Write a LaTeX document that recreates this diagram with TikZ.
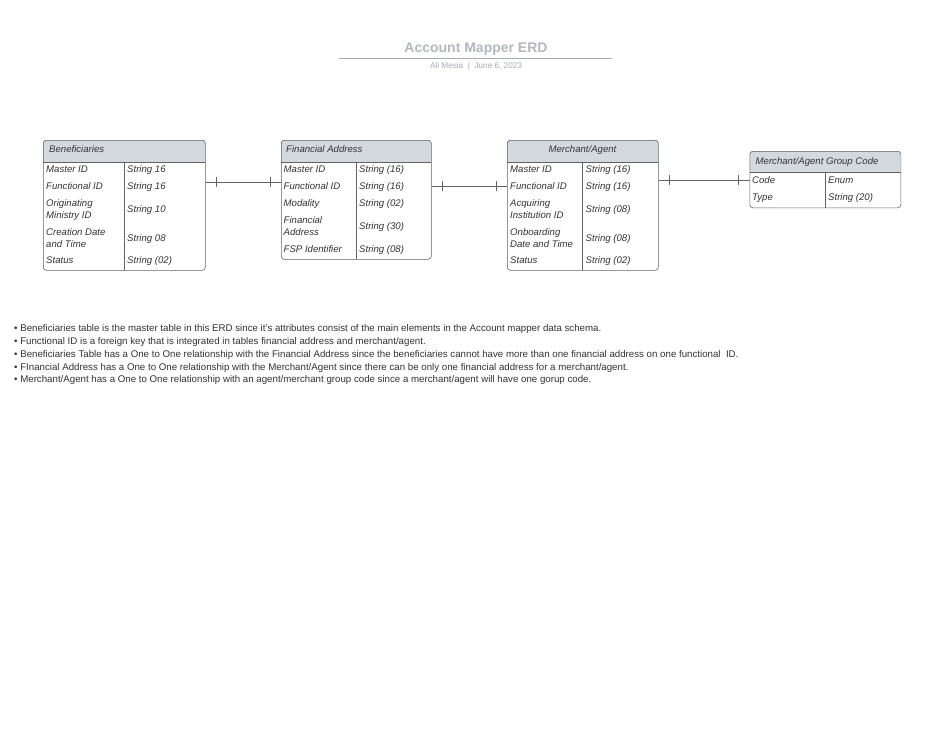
\documentclass[tikz,border=0pt]{standalone}
\usepackage{fontspec}
\setmainfont{Liberation Sans}
\usetikzlibrary{calc}
\definecolor{hdr}{HTML}{D4D9E0}
\definecolor{bord}{HTML}{5F6368}
\definecolor{txt}{HTML}{333333}
\definecolor{ttl}{HTML}{B4B8C0}
\definecolor{sub}{HTML}{A8ACB4}
\begin{document}
\begin{tikzpicture}[x=1pt,y=-1pt,
  cell/.style={font=\fontsize{9.6}{12}\selectfont\itshape, text=txt, anchor=west, inner sep=0, align=left},
  boxs/.style={draw=bord, line width=0.6pt, rounded corners=3pt, anchor=north west, inner sep=0},
  inner/.style={draw=bord, line width=0.6pt},
  conn/.style={draw=bord, line width=0.5pt},
  tick/.style={draw=bord, line width=0.5pt},
  bul/.style={font=\fontsize{9.7}{11}\selectfont, text=txt, anchor=west, inner sep=0}]
\fill[white] (0,0) rectangle (949,733);
\useasboundingbox (0,0) rectangle (949,733);

% title
\node[font=\fontsize{14}{16}\selectfont\bfseries, text=ttl, inner sep=0] (title) at (476,49.5) {Account Mapper ERD};
\draw[sub, line width=0.8pt] (339,58) -- (612,58);
\node[font=\fontsize{8.2}{9}\selectfont, text=sub, inner sep=0] (subtitle) at (476,66.5) {Ali Mesia\ \ |\ \ June 6, 2023};

% ---------- Beneficiaries ----------
\begin{scope}
\clip[rounded corners=3pt] (43,140) rectangle (205,270);
\fill[hdr] (43,140) rectangle (205,162);
\end{scope}
\node[boxs, minimum width=162pt, minimum height=130pt] (ben) at (43,140) {};
\draw[inner] (43,162) -- (205,162);
\draw[inner] (124,162) -- (124,270);
\node[cell] (benh) at (49,150.5) {\strut Beneficiaries};
\node[cell] (b1a) at (46,170) {\strut Master ID};
\node[cell] (b1b) at (127,170) {\strut String 16};
\node[cell] (b2a) at (46,187) {\strut Functional ID};
\node[cell] (b2b) at (127,187) {\strut String 16};
\node[cell] (b3a) at (46,210) {\strut Originating\\\strut Ministry ID};
\node[cell] (b3b) at (127,210) {\strut String 10};
\node[cell] (b4a) at (46,239) {\strut Creation Date\\\strut and Time};
\node[cell] (b4b) at (127,239) {\strut String 08};
\node[cell] (b5a) at (46,261) {\strut Status};
\node[cell] (b5b) at (127,261) {\strut String (02)};

% ---------- Financial Address ----------
\begin{scope}
\clip[rounded corners=3pt] (281,140) rectangle (431,259);
\fill[hdr] (281,140) rectangle (431,162);
\end{scope}
\node[boxs, minimum width=150pt, minimum height=119pt] (fa) at (281,140) {};
\draw[inner] (281,162) -- (431,162);
\draw[inner] (356,162) -- (356,259);
\node[cell] (fah) at (286,150.5) {\strut Financial Address};
\node[cell] (f1a) at (283.5,170) {\strut Master ID};
\node[cell] (f1b) at (359,170) {\strut String (16)};
\node[cell] (f2a) at (283.5,187) {\strut Functional ID};
\node[cell] (f2b) at (359,187) {\strut String (16)};
\node[cell] (f3a) at (283.5,204) {\strut Modality};
\node[cell] (f3b) at (359,204) {\strut String (02)};
\node[cell] (f4a) at (283.5,227) {\strut Financial\\\strut Address};
\node[cell] (f4b) at (359,227) {\strut String (30)};
\node[cell] (f5a) at (283.5,250) {\strut FSP Identifier};
\node[cell] (f5b) at (359,250) {\strut String (08)};

% ---------- Merchant/Agent ----------
\begin{scope}
\clip[rounded corners=3pt] (507,140) rectangle (658,270);
\fill[hdr] (507,140) rectangle (658,162);
\end{scope}
\node[boxs, minimum width=151pt, minimum height=130pt] (ma) at (507,140) {};
\draw[inner] (507,162) -- (658,162);
\draw[inner] (582.5,162) -- (582.5,270);
\node[cell, anchor=center] (mah) at (582.5,150.5) {\strut Merchant/Agent};
\node[cell] (m1a) at (510,170) {\strut Master ID};
\node[cell] (m1b) at (585.5,170) {\strut String (16)};
\node[cell] (m2a) at (510,187) {\strut Functional ID};
\node[cell] (m2b) at (585.5,187) {\strut String (16)};
\node[cell] (m3a) at (510,210) {\strut Acquiring\\\strut Institution ID};
\node[cell] (m3b) at (585.5,210) {\strut String (08)};
\node[cell] (m4a) at (510,239) {\strut Onboarding\\\strut Date and Time};
\node[cell] (m4b) at (585.5,239) {\strut String (08)};
\node[cell] (m5a) at (510,261) {\strut Status};
\node[cell] (m5b) at (585.5,261) {\strut String (02)};

% ---------- Merchant/Agent Group Code ----------
\begin{scope}
\clip[rounded corners=3pt] (749.5,151) rectangle (900.5,207.5);
\fill[hdr] (749.5,151) rectangle (900.5,172);
\end{scope}
\node[boxs, minimum width=151pt, minimum height=56.5pt] (gc) at (749.5,151) {};
\draw[inner] (749.5,172) -- (900.5,172);
\draw[inner] (825.5,172) -- (825.5,207.5);
\node[cell] (gch) at (755.5,162) {\strut Merchant/Agent Group Code};
\node[cell] (g1a) at (752,181) {\strut Code};
\node[cell] (g1b) at (828,181) {\strut Enum};
\node[cell] (g2a) at (752,198) {\strut Type};
\node[cell] (g2b) at (828,198) {\strut String (20)};

% ---------- connectors (one-to-one) ----------
\coordinate (c1s) at ($(ben.north east)!0.3230!(ben.south east)$);
\coordinate (c1e) at (fa.west |- c1s);
\draw[conn] (c1s) -- (c1e);
\draw[tick] ($(c1s)+(11,-5)$) -- ($(c1s)+(11,5)$);
\draw[tick] ($(c1e)+(-11,-5)$) -- ($(c1e)+(-11,5)$);

\coordinate (c2s) at ($(fa.north east)!0.3834!(fa.south east)$);
\coordinate (c2e) at (ma.west |- c2s);
\draw[conn] (c2s) -- (c2e);
\draw[tick] ($(c2s)+(11,-5)$) -- ($(c2s)+(11,5)$);
\draw[tick] ($(c2e)+(-11,-5)$) -- ($(c2e)+(-11,5)$);

\coordinate (c3s) at ($(ma.north east)!0.3077!(ma.south east)$);
\coordinate (c3e) at (gc.west |- c3s);
\draw[conn] (c3s) -- (c3e);
\draw[tick] ($(c3s)+(11,-5)$) -- ($(c3s)+(11,5)$);
\draw[tick] ($(c3e)+(-11,-5)$) -- ($(c3e)+(-11,5)$);

% ---------- notes ----------
\node[bul] (n1) at (14,329.5) {\strut• Beneficiaries table is the master table in this ERD since it's attributes consist of the main elements in the Account mapper data schema.};
\node[bul] (n2) at (14,342.3) {\strut• Functional ID is a foreign key that is integrated in tables financial address and merchant/agent.};
\node[bul] (n3) at (14,355.1) {\strut• Beneficiaries Table has a One to One relationship with the Financial Address since the beneficiaries cannot have more than one financial address on one functional\ \ ID.};
\node[bul] (n4) at (14,367.9) {\strut• FInancial Address has a One to One relationship with the Merchant/Agent since there can be only one financial address for a merchant/agent.};
\node[bul] (n5) at (14,380.7) {\strut• Merchant/Agent has a One to One relationship with an agent/merchant group code since a merchant/agent will have one gorup code.};
\end{tikzpicture}
\end{document}
